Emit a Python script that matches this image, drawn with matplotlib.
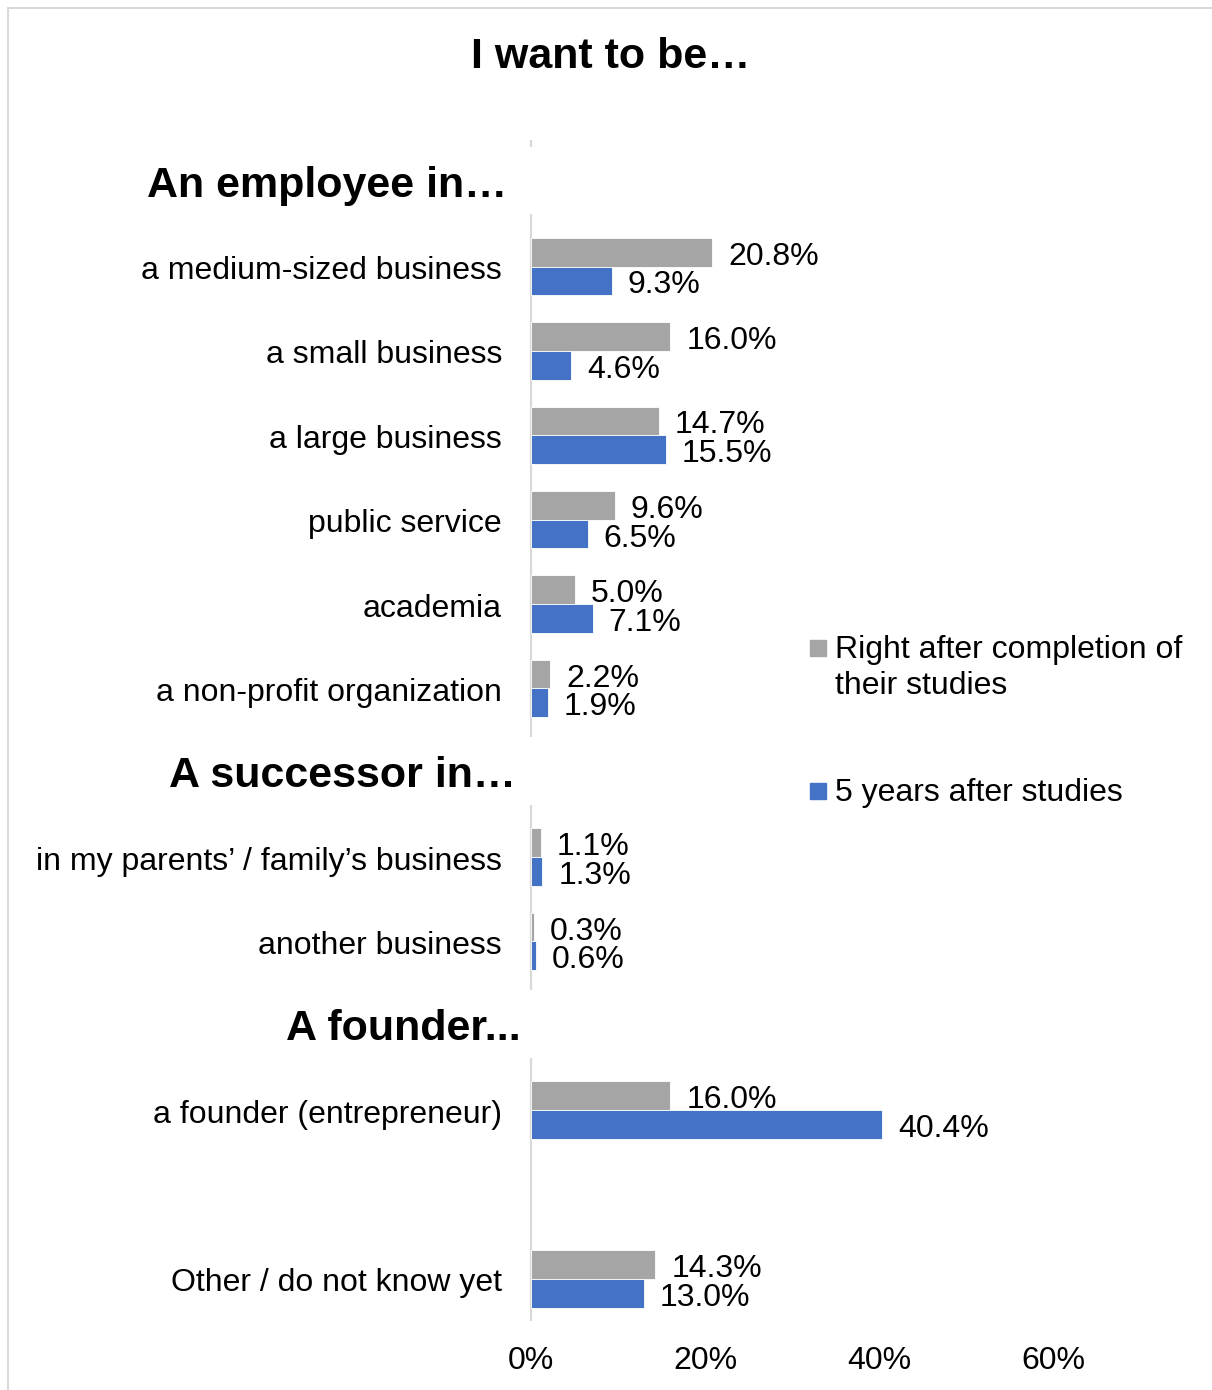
import matplotlib
matplotlib.use("Agg")
import matplotlib.pyplot as plt
from matplotlib.patches import Rectangle

plt.rcParams['font.family'] = ['Liberation Sans', 'DejaVu Sans']

# ---- data ----
title = "I want to be…"
rows = ["An employee in…", "a medium-sized business", "a small business", "a large business",
        "public service", "academia", "a non-profit organization",
        "A successor in…", "in my parents’ / family’s business", "another business",
        "A founder...", "a founder (entrepreneur)", "", "Other / do not know yet"]
is_heading = [True, False, False, False, False, False, False,
              True, False, False, True, False, False, False]
right_after = [None, 20.8, 16.0, 14.7, 9.6, 5.0, 2.2, None, 1.1, 0.3, None, 16.0, None, 14.3]
five_years = [None, 9.3, 4.6, 15.5, 6.5, 7.1, 1.9, None, 1.3, 0.6, None, 40.4, None, 13.0]
series_names = ["Right after completion of\ntheir studies", "5 years after studies"]
xticks = [0, 20, 40, 60]
xticklabels = ["0%", "20%", "40%", "60%"]

# ---- style ----
GRAY = "#A5A5A5"
BLUE = "#4472C4"
AXIS = "#D9D9D9"
FS = 23
HFS = 31
DY = -3.3  # pt, vertical nudge for text
heading_pad = {0: 24, 7: 15, 10: 10}  # px to the left of the axis

W, H = 1212, 1390
fig = plt.figure(figsize=(W / 100, H / 100), dpi=100)
ax = fig.add_axes([531 / W, 1 - 1321 / H, 652.5 / W, (1321 - 140) / H])

n = len(rows)
bh = 0.34
for i in range(n):
    a, b = right_after[i], five_years[i]
    if a is not None:
        ax.barh(i - bh / 2, a, height=bh, color=GRAY, edgecolor="white", linewidth=0.6)
        ax.annotate(f"{a:.1f}%", (a, i - bh / 2), xytext=(11.5, DY), textcoords="offset points",
                    ha="left", va="center", fontsize=FS)
    if b is not None:
        ax.barh(i + bh / 2, b, height=bh, color=BLUE, edgecolor="white", linewidth=0.6)
        ax.annotate(f"{b:.1f}%", (b, i + bh / 2), xytext=(11.5, DY), textcoords="offset points",
                    ha="left", va="center", fontsize=FS)

ax.set_xlim(0, 75)
ax.set_ylim(n - 0.5, -0.5)

# category labels
for i, lab in enumerate(rows):
    if not lab:
        continue
    if is_heading[i]:
        ax.annotate(lab, (0, i), xytext=(-heading_pad[i] * 0.72, -2.5), textcoords="offset points",
                    ha="right", va="center", fontsize=HFS, fontweight="bold")
    else:
        ax.annotate(lab, (0, i), xytext=(-29 * 0.72, DY), textcoords="offset points",
                    ha="right", va="center", fontsize=FS)

ax.set_yticks([])
ax.set_xticks(xticks)
ax.set_xticklabels(xticklabels, fontsize=FS)
ax.tick_params(axis="x", length=0, pad=18)
for s in ["top", "right", "bottom", "left"]:
    ax.spines[s].set_visible(False)

# vertical axis line, interrupted by the group headings
heads = [i for i in range(n) if is_heading[i]]
segs = []
start = -0.5
for h in heads:
    segs.append((start, h - 0.42))
    start = h + 0.38
segs.append((start, n - 0.5))
for y0, y1 in segs:
    ax.plot([0, 0], [y0, y1], color=AXIS, lw=1.6, solid_capstyle="butt", clip_on=False, zorder=0.5)

# title
fig.text(611 / W, 1 - 57 / H, title, ha="center", va="center", fontsize=HFS, fontweight="bold")

# legend (manual, Excel style)
leg_y = [648, 791]
leg_cols = [GRAY, BLUE]
for y, c, name in zip(leg_y, leg_cols, series_names):
    fig.add_artist(Rectangle((810 / W, 1 - (y + 8) / H), 16 / W, 16 / H,
                             transform=fig.transFigure, color=c))
    fig.text(835 / W, 1 - (y - 13) / H, name, ha="left", va="top", fontsize=FS, linespacing=1.26)

# chart frame
fig.add_artist(Rectangle((8 / W, -0.1), 1.2, 1.1 - 8 / H, transform=fig.transFigure,
                         fill=False, edgecolor=AXIS, lw=1.5))

fig.savefig("out.png", dpi=100, facecolor="white")
